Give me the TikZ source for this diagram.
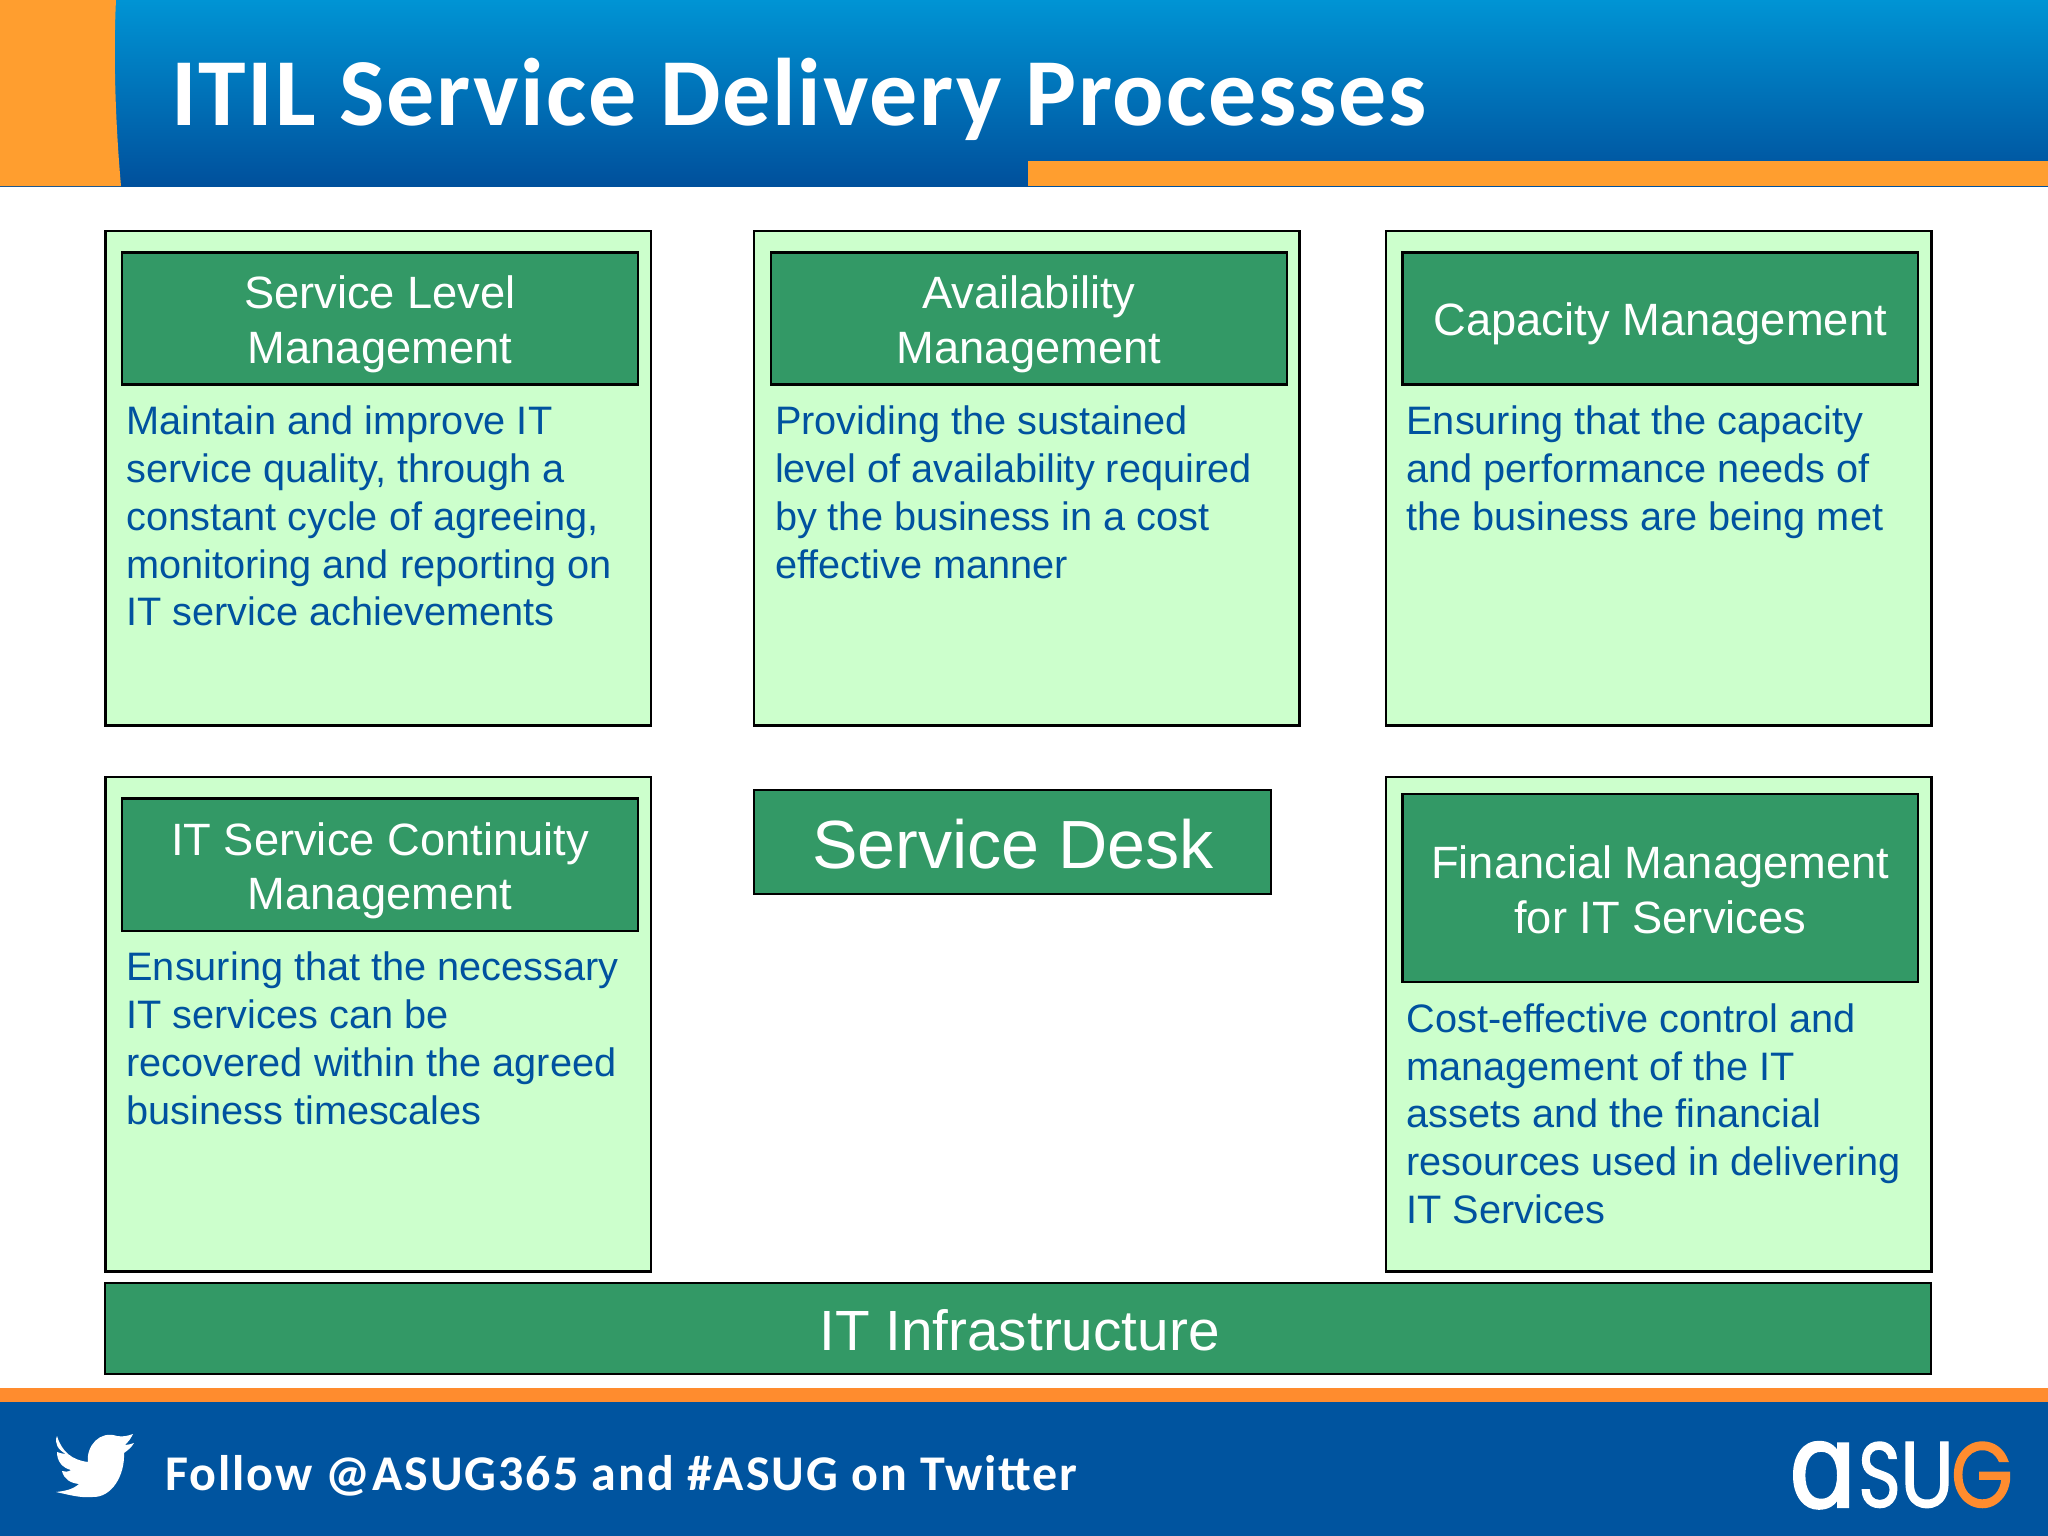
\documentclass[tikz,border=0pt]{standalone}
\usepackage{graphicx}
\usepackage{fontspec}
\setmainfont{Liberation Sans}
\newfontfamily\titlefont{Carlito}[LetterSpace=1.9]
\newfontfamily\followfont{Carlito}[LetterSpace=3.8]
\newfontfamily\logofont{Poppins}[FakeBold=1.5]
\newfontfamily\alphafont{DejaVu Sans}[FakeBold=2]
\definecolor{panelgreen}{HTML}{CCFFCC}
\definecolor{headgreen}{HTML}{339966}
\definecolor{bodyblue}{HTML}{00529F}
\definecolor{barorange}{HTML}{FF9E2F}
\definecolor{footorange}{HTML}{FF8C2E}
\definecolor{footblue}{HTML}{00549F}
\definecolor{skyblue}{HTML}{0094D4}
\definecolor{deepblue}{HTML}{00509C}
\tikzset{
 x=1pt,y=-1pt,
 panel/.style={draw=black,line width=2.8pt,fill=panelgreen,anchor=north west,inner sep=0,outer sep=0},
 head/.style={draw=black,line width=2.8pt,fill=headgreen,anchor=center,inner sep=0,outer sep=0},
 headtext/.style={text=white,anchor=center,inner sep=0,outer sep=0,align=center,font=\fontsize{45.3}{54.8}\selectfont},
 bodytext/.style={text=bodyblue,anchor=north west,inner sep=0,outer sep=0,align=left,font=\fontsize{39.7}{47.8}\selectfont},
 logotext/.style={anchor=base west,inner sep=0,outer sep=0},
}
\newcommand{\panelbox}[5]{\node[panel,minimum width=#4-#2,minimum height=#5-#3] (#1) at (#2,#3) {};}
\newcommand{\headbox}[7]{\node[head,minimum width=#4-#2,minimum height=#5-#3] (#1) at ({(#2+#4)/2},{(#3+#5)/2}) {};
 \node[headtext] (#1t) at ({(#2+#4)/2},{(#3+#5)/2+#6}) {#7};}
\begin{document}
\begin{tikzpicture}
\useasboundingbox (0,0) rectangle (2048,1536);
\fill[white] (0,0) rectangle (2048,1536);
% header
\shade[top color=skyblue,bottom color=deepblue] (0,0) rectangle (2048,186);
\fill[barorange] (0,0) -- (116,0) .. controls (113,60) and (116,130) .. (121,186) -- (0,186) -- cycle;
\fill[barorange] (1028,161) rectangle (2048,186);
\node[anchor=base west,inner sep=0,text=white,font=\titlefont\bfseries\fontsize{96}{96}\selectfont] (title) at (171,126) {ITIL Service Delivery Processes};
% panels
\panelbox{slmp}{105.5}{231}{651}{725.5}
\panelbox{amp}{754}{231}{1299.5}{725.5}
\panelbox{cmp}{1386}{231}{1931.5}{725.5}
\panelbox{scp}{105.5}{777}{651}{1271.5}
\panelbox{fmp}{1386}{777}{1931.5}{1271.5}
% headers
\headbox{slmh}{122}{252.5}{638}{384.5}{5.5}{Service Level\\Management}
\headbox{amh}{771}{252.5}{1287}{384.5}{5.5}{Availability\\Management}
\headbox{cmh}{1402.5}{252.5}{1918}{384.5}{5}{Capacity Management}
\headbox{sch}{122}{798.5}{638}{931}{6}{IT Service Continuity\\Management}
\headbox{fmh}{1402.5}{794}{1918}{982}{2}{Financial Management\\for IT Services}
\node[head,minimum width=517pt,minimum height=104pt] (desk) at (1012.5,842) {};
\node[headtext,font=\fontsize{68.2}{76}\selectfont] (desktext) at (1013,844) {Service Desk};
\node[head,minimum width=1826pt,minimum height=91pt] (infra) at (1018,1328.5) {};
\node[headtext,font=\fontsize{56.7}{66}\selectfont] (infratext) at (1019.5,1330) {IT Infrastructure};
% body
\node[bodytext] (slmt) at (126.5,406) {Maintain and improve IT\\service quality, through a\\constant cycle of agreeing,\\monitoring and reporting on\\IT service achievements};
\node[bodytext] (amt) at (775,406) {Providing the sustained\\level of availability required\\by the business in a cost\\effective manner};
\node[bodytext] (cmt) at (1406.5,406) {Ensuring that the capacity\\and performance needs of\\the business are being met};
\node[bodytext] (sct) at (126.5,952) {Ensuring that the necessary\\IT services can be\\recovered within the agreed\\business timescales};
\node[bodytext] (fmt) at (1406.5,1003.5) {Cost-effective control and\\management of the IT\\assets and the financial\\resources used in delivering\\IT Services};
% footer
\fill[footorange] (0,1388) rectangle (2048,1402);
\fill[footblue] (0,1402) rectangle (2048,1536);
\node[anchor=base west,inner sep=0,text=white,font=\followfont\bfseries\fontsize{50}{50}\selectfont] (follow) at (165,1490) {Follow @ASUG365 and \#ASUG on Twitter};
% bird
\fill[white] (57,1436) .. controls (62,1452) and (72,1460) .. (88,1462)
 .. controls (86,1446) and (100,1430) .. (117,1436) .. controls (123,1437) and (127,1436) .. (133,1434)
 .. controls (130,1440) and (128,1442) .. (125,1445) .. controls (128,1445) and (131,1444) .. (134,1443)
 .. controls (131,1448) and (128,1450) .. (124,1453) .. controls (125,1475) and (112,1498) .. (92,1497)
 .. controls (80,1498) and (70,1495) .. (56,1492) .. controls (64,1491) and (72,1490) .. (79,1484)
 .. controls (70,1483) and (64,1479) .. (62,1471) .. controls (65,1472) and (68,1472) .. (71,1470)
 .. controls (63,1468) and (57,1462) .. (57,1452) .. controls (60,1453) and (63,1454) .. (66,1454)
 .. controls (58,1450) and (54,1443) .. (57,1436) -- cycle;
% logo
\node[logotext,text=white] (logoa) at (1788,1507) {\resizebox{70pt}{65pt}{\alphafont ɑ}};
\node[logotext,text=white] (logos) at (1858,1507) {\resizebox{43pt}{65pt}{\logofont S}};
\node[logotext,text=white] (logou) at (1900,1507) {\resizebox{54pt}{65pt}{\logofont U}};
\node[logotext,text=footorange] (logog) at (1951,1507) {\resizebox{62pt}{65pt}{\logofont G}};
\end{tikzpicture}
\end{document}
